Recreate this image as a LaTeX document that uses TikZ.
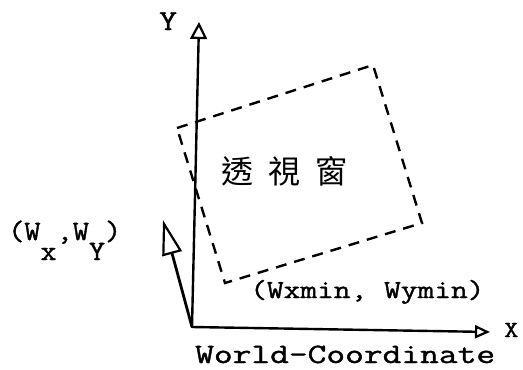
\documentclass[tikz,border=0pt]{standalone}
\usepackage{fontspec}
\newfontfamily\cjk{Noto Sans CJK TC}
\newfontfamily\twfont[FakeBold=1.2]{Latin Modern Mono}
\usetikzlibrary{arrows.meta}
\newcommand{\tw}[3]{{\twfont\fontsize{#1}{#1}\selectfont\scalebox{#2}[1]{#3}}}
\begin{document}
\begin{tikzpicture}[x=1pt,y=-1pt,
  axis/.style={line width=2.4pt, line cap=round},
  winedge/.style={line width=2.4pt, dash pattern=on 11pt off 8pt},
  lbl/.style={inner sep=0pt, anchor=base west}]
\useasboundingbox (0,0) rectangle (523,370);
% axis points
\coordinate (O) at (192,327);
\coordinate (Ytip) at (199,22);
\coordinate (Xtip) at (490,332);
\coordinate (Vtip) at (163,220);
% window corners
\coordinate (TL) at (177,128);
\coordinate (TR) at (373,65);
\coordinate (BR) at (422,223);
\coordinate (BL) at (225,283);
% axes
\draw[axis, -{Triangle[open, length=17pt, width=17pt, line width=2.2pt]}] (O) -- (Ytip);
\draw[axis, -{Triangle[open, length=15pt, width=13pt, line width=2.2pt]}] (O) -- (Xtip);
\draw[line width=2.8pt, -{Triangle[open, length=35pt, width=20pt, line width=2.2pt]}] (O) -- (Vtip);
% dashed window
\draw[winedge] (TL) -- (TR) -- (BR) -- (BL) -- cycle;
% labels
\node[lbl] (ylab) at (159,30) {\tw{29}{1.2}{Y}};
\node[lbl] (xlab) at (504,337) {\tw{23}{1.2}{X}};
\node[lbl] (wxy) at (8,240) {\tw{28}{1.12}{(W\raisebox{-20pt}{x},W\raisebox{-20pt}{Y})}};
\node[lbl] (wmin) at (250,298) {\tw{26}{1.25}{(Wxmin, Wymin)}};
\node[lbl] (world) at (195,363) {\tw{28}{1.3}{World-Coordinate}};
\node[lbl, font=\cjk\fontsize{32}{32}\selectfont] (title) at (221,183) {透\hspace{15pt}視\hspace{15pt}窗};
\end{tikzpicture}
\end{document}
